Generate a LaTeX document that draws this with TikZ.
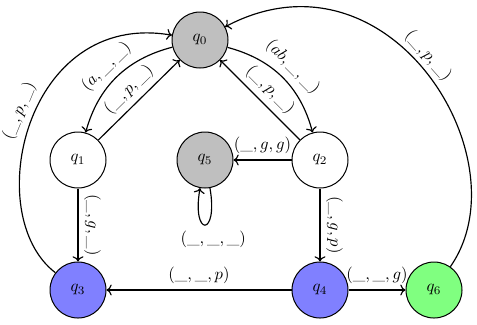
\documentclass[tikz,border=0pt]{standalone}
\usetikzlibrary{arrows.meta}
\begin{document}
\begin{tikzpicture}[x=0.6pt,y=-0.6pt,
  state/.style={circle,draw,line width=0.6pt,minimum size=33.6pt,inner sep=0pt},
  grey/.style={fill=black!25},
  blu/.style={fill=blue!50},
  grn/.style={fill=green!50},
  edgeline/.style={->,line width=0.7pt}]
\useasboundingbox (0,0) rectangle (477,324);
\node[state,grey] (q0) at (200,40) {$q_0$};
\node[state] (q1) at (78,160) {$q_1$};
\node[state] (q2) at (320,160) {$q_2$};
\node[state,grey] (q5) at (205,160) {$q_5$};
\node[state,blu] (q3) at (78,290) {$q_3$};
\node[state,blu] (q4) at (320,290) {$q_4$};
\node[state,grn] (q6) at (434,290) {$q_6$};

\draw[edgeline] (q0) to[bend right=30] node[sloped,above] {$(a,\_,\_)$} (q1);
\draw[edgeline] (q1) -- node[sloped,above] {$(\_,p,\_)$} (q0);
\draw[edgeline] (q0) to[bend left=30] node[sloped,above] {$(ab,\_,\_)$} (q2);
\draw[edgeline] (q2) -- node[sloped,above] {$(\_,p,\_)$} (q0);
\draw[edgeline] (q3) .. controls (-20,215) and (25,10) .. node[sloped,above,pos=0.52] {$(\_,p,\_)$} (q0);
\draw[edgeline] (q6) .. controls (525,160) and (390,-60) .. node[sloped,above,pos=0.53,inner sep=2pt] {$(\_,p,\_)$} (q0);
\draw[edgeline] (q2) -- node[above] {$(\_,g,g)$} (q5);
\draw[edgeline] (q1) -- node[anchor=south,rotate=-90] {$(\_,g,\_)$} (q3);
\draw[edgeline] (q2) -- node[anchor=south,rotate=-90] {$(\_,g,p)$} (q4);
\draw[edgeline] (q4) -- node[above] {$(\_,\_,p)$} (q3);
\draw[edgeline] (q4) -- node[above] {$(\_,\_,g)$} (q6);
\draw[edgeline] (q5) to[loop,out=-80,in=-100,min distance=30pt] node[below,xshift=5pt] {$(\_,\_,\_)$} (q5);
\end{tikzpicture}
\end{document}
